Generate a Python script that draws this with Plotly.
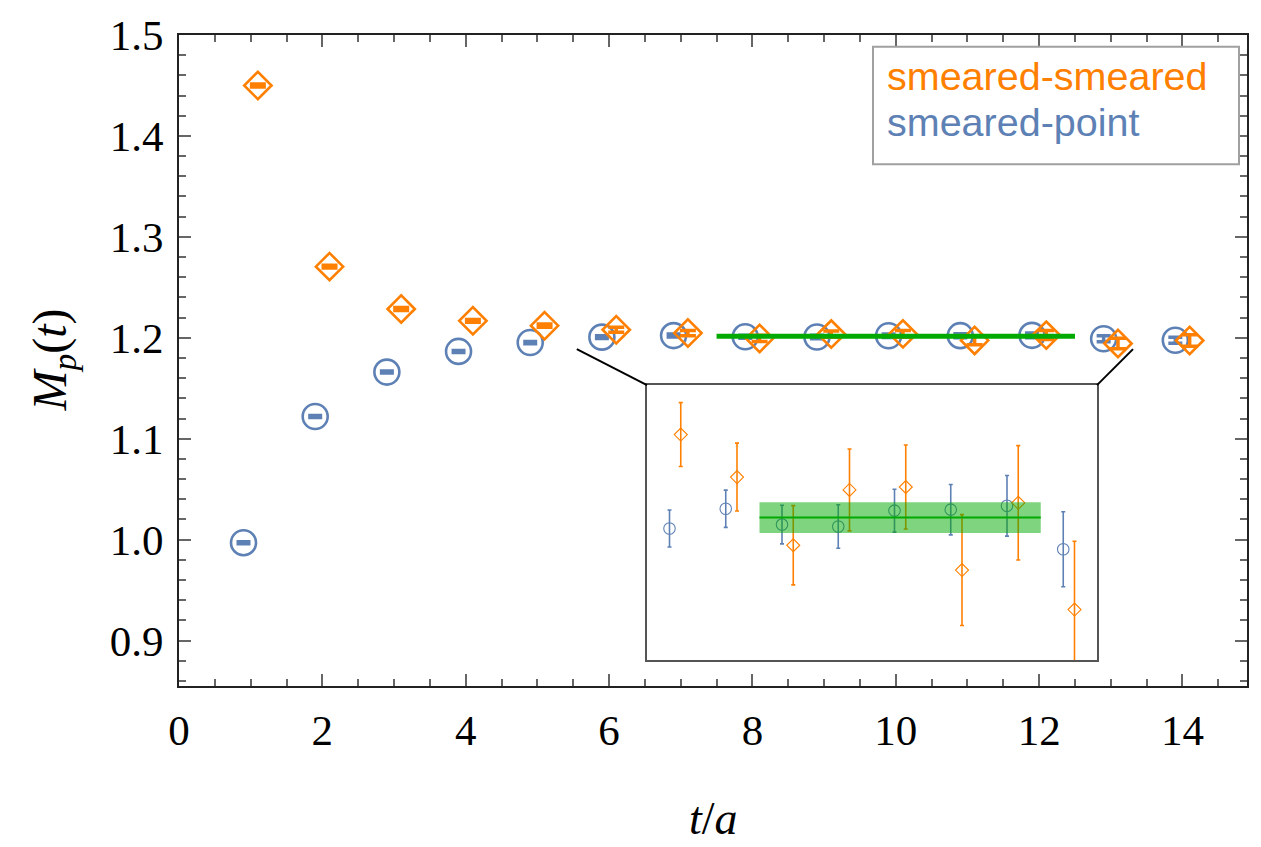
import plotly.graph_objects as go

# ---- data -------------------------------------------------------------
t_vals = [1, 2, 3, 4, 5, 6, 7, 8, 9, 10, 11, 12, 13, 14]

sp_mass = [0.997, 1.122, 1.166, 1.1865, 1.1953, 1.20065, 1.20219, 1.20096,
           1.20081, 1.20204, 1.20212, 1.20242, 1.19904, 1.1976]
sp_err = [0.0010, 0.0010, 0.0010, 0.0010, 0.0011, 0.00144, 0.00145, 0.0015,
          0.00169, 0.00167, 0.00196, 0.00236, 0.00292, 0.0030]

ss_mass = [1.450, 1.2705, 1.2285, 1.2168, 1.212, 1.20796, 1.20465, 1.19935,
           1.20365, 1.20388, 1.19742, 1.20265, 1.19435, 1.1973]
ss_err = [0.0015, 0.0014, 0.0014, 0.0014, 0.0016, 0.00248, 0.00264, 0.00308,
          0.00318, 0.00327, 0.00431, 0.00445, 0.00531, 0.0058]

fit_t = [7.5, 12.5]
fit_mass = 1.2015
fit_err = 0.0012

x_ticks = [0, 2, 4, 6, 8, 10, 12, 14]
y_ticks = [0.9, 1.0, 1.1, 1.2, 1.3, 1.4, 1.5]

# ---- styling ----------------------------------------------------------
BLUE = "#5E81B5"
ORANGE = "#FF8000"
GREEN = "#00AA00"
SHIFT = 0.1  # horizontal offset separating the two correlators

W, H = 1261, 847
L, R, T, B = 179, 1247, 26, 686
X_RANGE = [0, 14.9]
Y_RANGE = [0.855, 1.5]

# inset placement (pixels) and its zoomed window
IN_L, IN_R, IN_T, IN_B = 647, 1097, 381, 660
IN_X_RANGE = [5.5, 13.5]
IN_Y_RANGE = [1.1904, 1.2118]
zoom_from = [(5.55, 1.1888), (13.31, 1.1888)]


def px_x(px):
    return (px - L) / (R - L)


def px_y(py):
    return (B - py) / (B - T)


def data_to_paper(x, y):
    return ((x - X_RANGE[0]) / (X_RANGE[1] - X_RANGE[0]),
            (y - Y_RANGE[0]) / (Y_RANGE[1] - Y_RANGE[0]))


x_sp = [t - SHIFT for t in t_vals]
x_ss = [t + SHIFT for t in t_vals]

fig = go.Figure()

# ---- main panel -------------------------------------------------------
fig.add_trace(go.Scatter(
    x=x_sp, y=sp_mass, mode="markers", xaxis="x", yaxis="y",
    marker=dict(symbol="circle-open", size=25, color=BLUE,
                line=dict(width=2.6, color=BLUE)),
    error_y=dict(type="data", array=sp_err, visible=True, color=BLUE,
                 thickness=3.5, width=7),
    showlegend=False))
fig.add_trace(go.Scatter(
    x=x_ss, y=ss_mass, mode="markers", xaxis="x", yaxis="y",
    marker=dict(symbol="diamond-open", size=21, color=ORANGE,
                line=dict(width=2.6, color=ORANGE)),
    error_y=dict(type="data", array=ss_err, visible=True, color=ORANGE,
                 thickness=3.5, width=8),
    showlegend=False))
fig.add_trace(go.Scatter(
    x=fit_t, y=[fit_mass, fit_mass], mode="lines", xaxis="x", yaxis="y",
    line=dict(color=GREEN, width=5), showlegend=False))

# ---- inset panel ------------------------------------------------------
fig.add_trace(go.Scatter(
    x=x_sp, y=sp_mass, mode="markers", xaxis="x2", yaxis="y2",
    marker=dict(symbol="circle-open", size=11.5, color=BLUE,
                line=dict(width=1.1, color=BLUE)),
    error_y=dict(type="data", array=sp_err, visible=True, color=BLUE,
                 thickness=1.6, width=2),
    showlegend=False))
fig.add_trace(go.Scatter(
    x=x_ss, y=ss_mass, mode="markers", xaxis="x2", yaxis="y2",
    marker=dict(symbol="diamond-open", size=10, color=ORANGE,
                line=dict(width=1.1, color=ORANGE)),
    error_y=dict(type="data", array=ss_err, visible=True, color=ORANGE,
                 thickness=1.6, width=2),
    showlegend=False))
fig.add_trace(go.Scatter(
    x=[fit_t[0], fit_t[1], fit_t[1], fit_t[0], fit_t[0]],
    y=[fit_mass - fit_err, fit_mass - fit_err, fit_mass + fit_err,
       fit_mass + fit_err, fit_mass - fit_err],
    mode="lines", fill="toself", fillcolor="rgba(0,170,0,0.5)",
    line=dict(width=0), xaxis="x2", yaxis="y2", showlegend=False,
    hoverinfo="skip"))
fig.add_trace(go.Scatter(
    x=fit_t, y=[fit_mass, fit_mass], mode="lines", xaxis="x2", yaxis="y2",
    line=dict(color=GREEN, width=2), showlegend=False))

tick_font = dict(family="Liberation Serif", size=43, color="black")
frame = dict(showline=True, linecolor="#222", linewidth=2, mirror="ticks",
             ticks="inside", tickcolor="#666", tickwidth=1.5, ticklen=12,
             showgrid=False, zeroline=False, tickfont=tick_font)

fig.update_layout(
    width=W, height=H,
    margin=dict(l=L, r=W - R, t=T, b=H - B),
    paper_bgcolor="white", plot_bgcolor="white",
    xaxis=dict(range=X_RANGE, tickvals=x_ticks, ticklabelstandoff=5,
               minor=dict(dtick=0.5, tick0=0, ticks="inside", ticklen=7,
                          tickcolor="#666", tickwidth=1.5),
               **frame),
    yaxis=dict(range=Y_RANGE, tickvals=y_ticks, tickformat=".1f",
               ticklabelstandoff=5,
               minor=dict(dtick=0.02, tick0=0.9, ticks="inside", ticklen=7,
                          tickcolor="#666", tickwidth=1.5),
               **frame),
    xaxis2=dict(domain=[px_x(IN_L), px_x(IN_R)], range=IN_X_RANGE,
                anchor="y2", showticklabels=False, ticks="", showgrid=False,
                zeroline=False, showline=True, mirror=True,
                linecolor="#555", linewidth=1.5),
    yaxis2=dict(domain=[px_y(IN_B), px_y(IN_T)], range=IN_Y_RANGE,
                anchor="x2", showticklabels=False, ticks="", showgrid=False,
                zeroline=False, showline=True, mirror=True,
                linecolor="#555", linewidth=1.5),
)

# lines joining the zoomed window to the inset corners
corners = [(px_x(IN_L), px_y(IN_T)), (px_x(IN_R), px_y(IN_T))]
for (xd, yd), (xc, yc) in zip(zoom_from, corners):
    xp, yp = data_to_paper(xd, yd)
    fig.add_shape(type="line", xref="paper", yref="paper",
                  x0=xp, y0=yp, x1=xc, y1=yc,
                  line=dict(color="black", width=2))

# legend box with coloured labels
fig.add_shape(type="rect", xref="paper", yref="paper",
              x0=px_x(873), x1=px_x(1239), y0=px_y(157), y1=px_y(38),
              line=dict(color="#A0A0A0", width=2), fillcolor="white")
legend_font = "Liberation Sans"
fig.add_annotation(text="smeared-smeared", xref="paper", yref="paper",
                   x=px_x(885), y=px_y(68), xanchor="left", yanchor="middle",
                   showarrow=False,
                   font=dict(family=legend_font, size=39.5, color=ORANGE))
fig.add_annotation(text="smeared-point", xref="paper", yref="paper",
                   x=px_x(885), y=px_y(114), xanchor="left", yanchor="middle",
                   showarrow=False,
                   font=dict(family=legend_font, size=39.5, color=BLUE))

# axis titles
title_font = dict(family="Liberation Serif", size=48, color="black")
fig.add_annotation(text="<i>M</i><sub><i>p</i></sub>(<i>t</i>)",
                   xref="paper", yref="paper", x=0, y=0.5, xshift=52 - L,
                   xanchor="center", yanchor="middle", textangle=-90,
                   showarrow=False, font=title_font)
fig.add_annotation(text="<i>t</i>/<i>a</i>",
                   xref="paper", yref="paper", x=0.5, y=0, yshift=-(818 - B),
                   xanchor="center", yanchor="middle",
                   showarrow=False, font=dict(family="Liberation Serif",
                                              size=46, color="black"))

fig.write_html("out.html")
